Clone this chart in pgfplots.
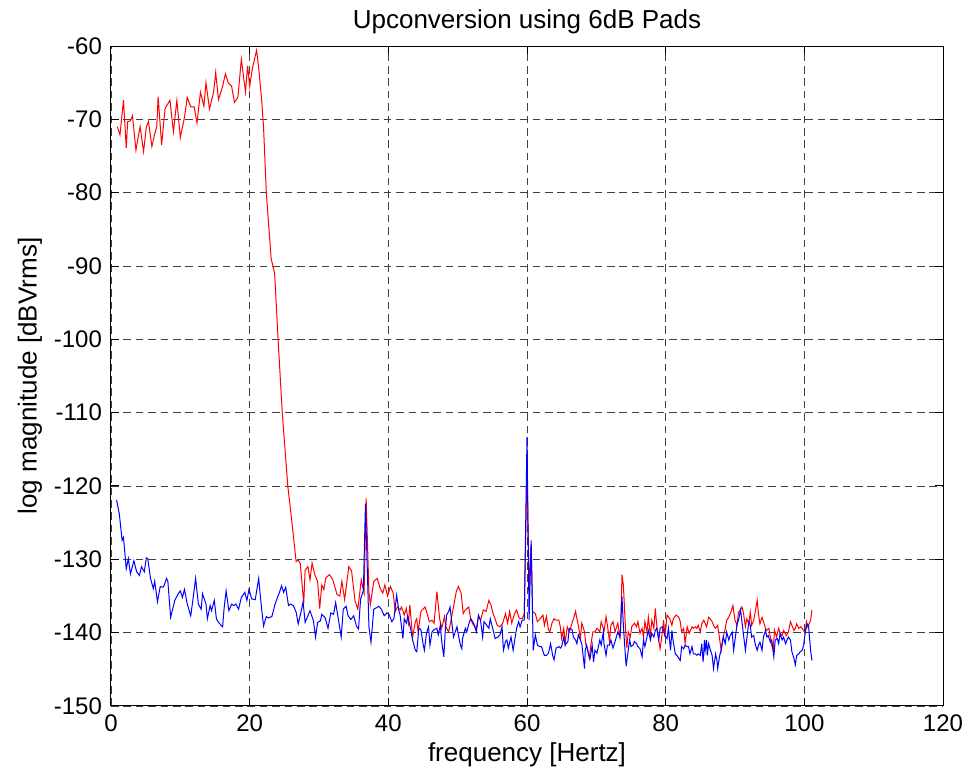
\documentclass[border=0pt]{standalone}
\usepackage{fontspec}
\setmainfont{Liberation Sans}
\usepackage{pgfplots}
\pgfplotsset{compat=1.18}
\usepackage{pgfplotstable}

% blue trace
\pgfplotstableread{
x y
0.8 -121.9
1.2 -123.8
1.6 -127.4
1.8 -127.0
2.2 -131.3
2.5 -129.9
2.8 -132.0
3.3 -130.2
3.7 -131.7
4.1 -132.2
4.4 -131.0
4.8 -131.7
5.1 -129.8
5.3 -129.9
5.7 -132.6
6.1 -134.0
6.3 -133.0
6.7 -135.8
7.1 -133.7
7.5 -133.8
7.7 -133.5
8.0 -132.6
8.2 -133.0
8.6 -137.9
9.2 -135.6
9.7 -134.7
10.0 -134.3
10.3 -135.2
10.6 -134.1
11.0 -136.1
11.5 -137.7
11.8 -135.6
12.2 -132.6
12.6 -136.1
13.0 -136.8
13.2 -134.7
13.7 -136.1
13.9 -138.1
14.3 -136.3
14.5 -137.0
14.9 -135.6
15.2 -138.1
15.5 -138.6
16.1 -139.2
16.3 -136.8
16.6 -134.3
17.0 -137.0
17.4 -136.1
17.7 -136.3
18.0 -136.1
18.4 -136.8
18.8 -135.2
19.3 -134.5
19.6 -135.6
19.9 -134.1
20.3 -135.4
20.8 -135.5
21.3 -132.6
21.6 -135.6
22.0 -139.1
22.4 -137.8
22.7 -138.0
23.2 -137.8
23.7 -136.0
24.3 -134.5
24.6 -133.6
24.9 -134.5
25.2 -133.8
25.6 -136.3
25.9 -136.1
26.3 -136.3
26.7 -137.2
27.0 -138.8
27.4 -137.2
27.7 -135.8
28.0 -138.6
28.4 -137.7
28.7 -137.0
29.2 -138.4
29.5 -140.6
29.8 -138.6
30.2 -138.4
30.4 -137.5
30.9 -138.0
31.3 -139.4
31.7 -137.3
32.1 -137.5
32.4 -135.9
32.8 -138.2
33.2 -140.6
33.5 -136.8
33.9 -136.4
34.2 -137.7
34.6 -138.2
35.0 -137.7
35.4 -139.1
35.7 -139.5
36.0 -135.4
36.4 -134.3
36.7 -122.4
37.2 -139.2
37.5 -141.3
37.9 -136.8
38.3 -136.6
38.6 -136.4
39.0 -136.8
39.4 -137.7
39.8 -137.3
40.1 -137.5
40.5 -138.5
40.8 -138.1
41.2 -134.9
41.5 -136.9
41.7 -137.6
42.1 -140.8
42.3 -138.1
42.6 -138.7
42.8 -137.8
43.1 -139.0
43.2 -139.4
43.5 -141.0
43.9 -142.4
44.1 -142.6
44.4 -139.4
44.7 -139.6
45.0 -141.5
45.2 -142.4
45.5 -140.1
45.8 -139.2
46.0 -141.7
46.3 -139.9
46.6 -139.6
47.0 -139.4
47.2 -140.3
47.5 -139.0
47.7 -141.2
48.0 -143.3
48.2 -139.9
48.4 -137.6
48.7 -137.1
48.9 -136.5
49.2 -139.0
49.4 -140.6
49.9 -139.2
50.1 -140.3
50.4 -141.7
50.6 -142.2
50.7 -140.8
51.1 -139.4
51.3 -139.9
51.7 -138.5
51.9 -138.1
52.3 -138.7
52.7 -139.9
53.0 -137.6
53.3 -138.3
53.6 -140.6
53.8 -138.5
54.2 -139.0
54.5 -139.4
54.7 -138.1
55.1 -139.6
55.4 -140.8
55.8 -140.6
56.1 -140.3
56.4 -139.2
56.6 -142.4
56.9 -141.2
57.1 -141.0
57.3 -142.1
57.7 -140.6
58.0 -142.4
58.3 -140.6
58.5 -139.4
58.8 -138.5
59.0 -139.2
59.3 -138.3
59.6 -138.3
60.0 -113.3
60.3 -138.3
60.6 -127.4
60.9 -142.4
61.2 -140.3
61.5 -141.7
61.8 -141.9
62.1 -141.9
62.5 -143.1
62.8 -143.1
63.1 -142.8
63.4 -141.5
63.7 -143.1
63.9 -143.7
64.2 -142.1
64.6 -141.9
64.8 -142.1
65.0 -141.9
65.3 -140.6
65.5 -141.7
65.9 -141.2
66.1 -139.4
66.5 -139.6
66.7 -140.6
67.0 -141.0
67.2 -141.5
67.4 -140.3
67.7 -141.0
67.9 -141.5
68.3 -144.9
68.4 -142.4
68.6 -141.7
68.9 -143.1
69.1 -143.5
69.4 -141.7
69.6 -144.0
69.8 -142.4
70.1 -142.8
70.5 -141.0
70.7 -141.7
71.0 -139.9
71.1 -141.5
71.4 -143.1
71.6 -141.7
71.9 -141.7
72.1 -141.0
72.4 -142.1
72.7 -141.2
73.1 -139.9
73.4 -140.6
73.5 -139.2
73.7 -135.1
73.9 -139.0
74.1 -141.9
74.3 -144.6
74.5 -143.1
74.8 -141.0
75.0 -141.9
75.3 -141.7
75.5 -141.2
75.8 -141.5
76.0 -141.9
76.3 -142.2
76.6 -143.3
76.8 -141.0
77.0 -141.9
77.3 -140.6
77.5 -139.7
77.8 -141.0
78.0 -140.1
78.3 -140.6
78.5 -139.7
78.7 -139.4
79.0 -141.0
79.2 -139.4
79.5 -139.2
79.7 -139.7
79.9 -140.4
80.2 -140.8
80.4 -139.4
80.7 -142.4
80.9 -139.7
81.1 -141.3
81.4 -142.9
81.6 -143.1
81.9 -143.5
82.1 -143.8
82.3 -141.9
82.6 -142.2
82.8 -141.7
83.1 -141.9
83.3 -141.9
83.5 -142.9
83.8 -141.9
84.0 -142.9
84.3 -142.9
84.5 -143.1
84.7 -142.9
85.0 -143.1
85.2 -141.5
85.4 -144.0
85.6 -141.0
85.7 -142.4
85.9 -141.0
86.0 -143.1
86.2 -141.5
86.4 -142.2
86.7 -143.1
86.9 -144.9
87.2 -142.9
87.4 -143.8
87.5 -144.9
87.8 -143.1
88.0 -142.4
88.3 -140.6
88.6 -141.5
88.8 -139.9
89.1 -141.0
89.3 -140.4
89.6 -139.9
89.8 -142.4
90.0 -141.0
90.3 -138.8
90.5 -138.3
90.8 -136.9
91.0 -138.5
91.2 -140.1
91.5 -142.4
91.7 -140.8
92.0 -138.5
92.2 -139.0
92.4 -140.6
92.7 -140.4
92.9 -141.5
93.2 -142.4
93.4 -141.7
93.6 -141.3
93.9 -142.4
94.1 -140.6
94.4 -139.7
94.6 -140.6
94.8 -140.4
95.1 -141.3
95.3 -141.0
95.6 -143.3
95.8 -141.0
96.1 -140.8
96.3 -141.5
96.5 -140.1
96.8 -141.0
97.0 -140.6
97.3 -141.5
97.5 -141.0
97.7 -140.6
98.0 -141.0
98.2 -142.6
98.5 -143.5
98.7 -144.4
98.9 -143.1
99.2 -142.9
99.4 -142.6
99.7 -142.4
99.9 -141.7
100.1 -140.1
100.4 -138.8
100.6 -139.0
100.9 -142.4
101.1 -143.8
}\bluedata

% red trace
\pgfplotstableread{
x y
0.9 -71.0
1.3 -72.1
1.8 -67.4
2.2 -73.9
2.4 -70.3
2.8 -70.2
3.1 -69.5
3.6 -74.2
3.9 -72.5
4.2 -71.0
4.7 -74.4
5.1 -71.0
5.4 -70.3
5.9 -73.7
6.3 -72.0
6.6 -71.0
6.8 -66.9
7.3 -73.5
7.8 -68.5
8.5 -67.4
9.0 -71.7
9.5 -67.4
10.0 -72.5
10.6 -69.7
11.0 -67.0
11.5 -68.3
12.0 -68.3
12.4 -70.5
12.9 -66.3
13.4 -68.2
13.7 -65.0
14.2 -68.6
14.8 -66.3
15.1 -63.6
15.5 -67.3
16.1 -65.5
16.5 -63.8
16.9 -65.0
17.4 -65.5
17.8 -67.7
18.3 -67.0
18.8 -61.8
19.4 -66.3
19.7 -62.7
20.0 -65.5
20.4 -63.0
21.0 -60.6
21.3 -63.0
21.7 -67.0
22.0 -71.0
22.4 -80.0
23.1 -89.0
23.6 -91.0
24.1 -100.0
24.7 -110.0
25.5 -120.0
26.1 -125.0
26.7 -130.3
27.0 -130.1
27.3 -130.6
27.8 -136.0
28.0 -131.5
28.4 -131.0
28.7 -132.8
29.0 -130.5
29.4 -132.1
29.8 -133.0
30.1 -136.7
30.4 -133.5
30.7 -134.1
31.0 -132.5
31.5 -132.1
32.0 -132.8
32.6 -134.8
33.0 -135.0
33.3 -133.0
33.7 -135.5
34.3 -131.0
34.7 -131.6
35.2 -135.7
35.6 -136.8
36.1 -132.8
36.5 -134.6
36.8 -121.7
37.2 -134.4
37.4 -136.2
37.9 -133.0
38.4 -132.6
38.8 -133.9
39.2 -134.6
39.5 -133.5
39.9 -135.0
40.3 -133.7
40.7 -134.6
41.0 -137.1
41.3 -136.5
41.7 -136.9
41.9 -136.5
42.3 -137.6
42.6 -136.7
42.9 -138.7
43.1 -136.2
43.5 -140.6
43.9 -138.5
44.1 -138.1
44.3 -139.9
44.7 -137.1
45.1 -136.7
45.3 -136.5
45.6 -137.4
45.9 -138.5
46.3 -138.3
46.6 -138.7
47.0 -134.4
47.4 -138.1
47.7 -139.4
48.1 -137.8
48.3 -139.2
48.7 -139.9
49.0 -138.5
49.4 -136.5
49.8 -134.4
50.1 -133.7
50.5 -134.6
50.8 -137.4
51.1 -136.9
51.6 -136.5
51.9 -138.3
52.3 -139.0
52.7 -139.4
53.0 -137.8
53.3 -138.3
53.7 -136.9
54.1 -137.1
54.5 -135.6
54.8 -136.2
55.1 -137.4
55.4 -138.1
55.7 -139.0
56.1 -139.2
56.5 -138.7
56.9 -137.4
57.2 -138.7
57.5 -137.1
57.8 -138.7
58.2 -137.4
58.5 -136.9
58.9 -138.1
59.3 -138.1
59.6 -137.5
60.0 -117.2
60.3 -133.8
60.6 -128.0
60.8 -137.1
61.2 -137.4
61.5 -138.5
61.9 -138.1
62.3 -137.6
62.5 -139.0
62.8 -137.8
63.1 -139.6
63.3 -139.9
63.6 -138.7
63.9 -138.1
64.2 -138.3
64.6 -138.3
64.8 -139.2
65.0 -140.8
65.3 -139.4
65.5 -141.5
65.8 -139.2
66.1 -139.9
66.5 -138.7
66.7 -138.1
67.0 -137.1
67.2 -138.1
67.4 -139.0
67.7 -140.8
67.9 -138.7
68.3 -139.9
68.5 -141.7
68.7 -142.1
69.0 -143.5
69.2 -141.7
69.5 -139.9
69.8 -139.9
70.1 -139.4
70.5 -139.9
70.7 -138.5
71.0 -139.4
71.1 -139.9
71.4 -137.8
71.6 -139.0
71.9 -141.2
72.1 -139.0
72.4 -138.5
72.7 -139.9
73.1 -138.7
73.4 -140.6
73.5 -139.6
73.7 -132.1
73.9 -133.5
74.2 -139.4
74.4 -142.1
74.6 -139.9
74.9 -140.6
75.1 -139.2
75.5 -138.7
75.8 -139.2
76.0 -138.5
76.3 -140.1
76.6 -139.4
76.8 -140.6
77.0 -138.5
77.3 -139.9
77.5 -137.9
77.8 -140.4
78.0 -138.3
78.3 -139.4
78.5 -136.7
78.7 -138.8
79.0 -141.0
79.2 -142.2
79.5 -140.1
79.7 -138.3
79.9 -140.6
80.2 -137.6
80.6 -138.1
80.9 -139.0
81.1 -138.1
81.5 -137.6
81.9 -137.9
82.1 -138.5
82.3 -139.9
82.6 -139.4
82.8 -141.5
83.1 -139.2
83.4 -140.1
83.8 -139.2
84.0 -139.4
84.3 -139.2
84.5 -139.4
84.7 -139.0
85.0 -139.9
85.2 -138.8
85.5 -138.3
85.9 -139.2
86.2 -137.9
86.4 -138.1
86.7 -138.5
86.9 -139.0
87.2 -139.4
87.5 -139.0
87.8 -141.0
88.0 -142.4
88.3 -140.6
88.6 -139.4
88.8 -138.3
89.1 -137.9
89.4 -137.2
89.7 -136.3
90.0 -138.3
90.3 -139.0
90.5 -137.2
90.8 -136.9
91.0 -136.5
91.2 -137.2
91.5 -139.2
91.7 -138.1
92.0 -138.8
92.2 -137.2
92.4 -139.0
92.7 -138.3
92.9 -137.2
93.2 -135.6
93.4 -137.6
93.6 -138.8
93.9 -137.9
94.2 -138.8
94.5 -139.7
94.9 -139.4
95.2 -141.3
95.5 -142.4
95.7 -139.7
96.0 -140.6
96.3 -139.4
96.5 -140.1
96.8 -140.4
97.0 -139.7
97.4 -140.4
97.7 -139.9
98.0 -138.5
98.2 -139.0
98.5 -139.7
98.7 -139.4
98.9 -138.8
99.2 -139.4
99.5 -139.2
99.9 -139.7
100.1 -140.1
100.3 -138.5
100.5 -139.2
100.6 -139.0
100.9 -138.3
101.1 -136.9
}\reddata

\begin{document}
\begin{tikzpicture}
\begin{axis}[
    scale only axis,
    width=416pt, height=330pt,
    at={(0,0)}, anchor=south west,
    xmin=0, xmax=120, ymin=-150, ymax=-60,
    xtick={0,20,...,120},
    ytick={-150,-140,...,-60},
    /pgf/number format/assume math mode=true,
    tick label style={font=\fontsize{12}{14}\selectfont},
    label style={font=\fontsize{13}{15}\selectfont},
    every axis title shift=0pt,
    title style={font=\fontsize{13}{15}\selectfont, at={(axis description cs:0.5,1.0364)}, anchor=center},
    title={Upconversion using 6dB Pads},
    xlabel={frequency [Hertz]},
    ylabel={log magnitude [dBVrms]},
    xlabel style={at={(axis description cs:0.5,-0.074)}, anchor=center},
    ylabel style={at={(axis description cs:-0.0974,0.5)}, anchor=center},
    grid=major,
    major grid style={black!75, line width=0.45pt, dash pattern=on 3.8pt off 2.4pt},
    axis line style={black, line width=0.5pt},
    tick style={black, line width=0.5pt},
    tick align=inside,
    major tick length=4pt,
    xticklabel style={yshift=-1pt},
    yticklabel style={xshift=-1pt},
]
\addplot[red, line width=0.5pt] table {\reddata};
\addplot[blue, line width=0.5pt] table {\bluedata};
\end{axis}
\useasboundingbox (-55.5pt,-36.5pt) rectangle (431pt,353pt);
\end{tikzpicture}
\end{document}
